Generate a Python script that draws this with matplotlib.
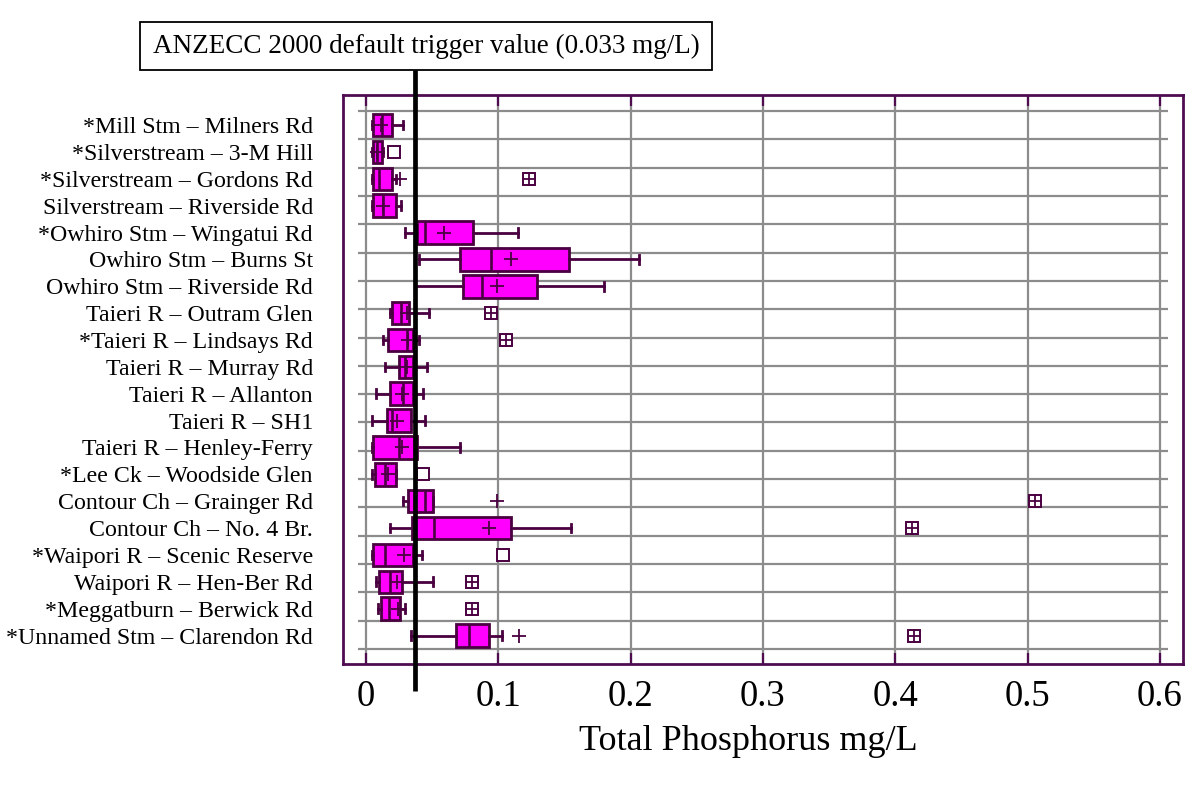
import matplotlib
matplotlib.use('Agg')
import matplotlib.pyplot as plt
import numpy as np
from matplotlib.patches import Rectangle
from matplotlib.transforms import blended_transform_factory

sites = ["*Mill Stm – Milners Rd", "*Silverstream – 3-M Hill", "*Silverstream – Gordons Rd",
         "Silverstream – Riverside Rd", "*Owhiro Stm – Wingatui Rd", "Owhiro Stm – Burns St",
         "Owhiro Stm – Riverside Rd", "Taieri R – Outram Glen", "*Taieri R – Lindsays Rd",
         "Taieri R – Murray Rd", "Taieri R – Allanton", "Taieri R – SH1", "Taieri R – Henley-Ferry",
         "*Lee Ck – Woodside Glen", "Contour Ch – Grainger Rd", "Contour Ch – No. 4 Br.",
         "*Waipori R – Scenic Reserve", "Waipori R – Hen-Ber Rd", "*Meggatburn – Berwick Rd",
         "*Unnamed Stm – Clarendon Rd"]
q1 = [0.0055, 0.0055, 0.0055, 0.0055, 0.0383, 0.071, 0.0736, 0.0194, 0.0169, 0.0252,
      0.0181, 0.0156, 0.0055, 0.0068, 0.032, 0.0345, 0.0055, 0.0098, 0.0111, 0.068]
median = [0.0118, 0.0086, 0.010, 0.0131, 0.0446, 0.0943, 0.0874, 0.0265, 0.0307, 0.0295,
          0.0277, 0.0199, 0.025, 0.0144, 0.0446, 0.0516, 0.0144, 0.018, 0.0174, 0.0778]
q3 = [0.0199, 0.0118, 0.0199, 0.0227, 0.0806, 0.1537, 0.129, 0.0328, 0.0353, 0.0353,
      0.0353, 0.0338, 0.0388, 0.0227, 0.0504, 0.1096, 0.0353, 0.027, 0.0257, 0.093]
whisker_lo = [0.0043, 0.0043, 0.0043, 0.0043, 0.0295, 0.040, 0.037, 0.018, 0.0131, 0.0144,
              0.0073, 0.0045, 0.0045, 0.0048, 0.0277, 0.018, 0.0045, 0.0073, 0.0088, 0.0338]
whisker_hi = [0.0277, 0.013, 0.0227, 0.0265, 0.1151, 0.2064, 0.180, 0.0476, 0.040, 0.0464,
              0.0433, 0.0446, 0.071, 0.0227, 0.0504, 0.155, 0.042, 0.0504, 0.0295, 0.103]
means = [0.011, 0.0086, 0.0257, 0.013, 0.059, 0.1094, 0.0988, 0.031, 0.032, 0.031,
         0.027, 0.0237, 0.027, 0.0169, 0.0988, 0.0932, 0.0287, 0.0237, 0.0244, 0.1157]
nan = float('nan')
open_square = [nan, 0.021, nan, nan, nan, nan, nan, nan, nan, nan,
               nan, nan, nan, 0.0433, nan, nan, 0.1038, nan, nan, nan]
crossed_square = [nan, nan, 0.1235, nan, nan, nan, nan, 0.0942, 0.1056, nan,
                  nan, nan, nan, nan, 0.5054, 0.4126, nan, 0.0804, 0.0804, 0.414]
x_ticks = [0, 0.1, 0.2, 0.3, 0.4, 0.5, 0.6]
x_ticklabels = ["0", "0.1", "0.2", "0.3", "0.4", "0.5", "0.6"]
trigger_x = 0.037
trigger_text = "ANZECC 2000 default trigger value (0.033 mg/L)"
x_title = "Total Phosphorus mg/L"

plt.rcParams['font.family'] = ['Liberation Serif', 'DejaVu Serif']

W, H = 1187, 789
fig = plt.figure(figsize=(W / 100, H / 100), dpi=100)
ax = fig.add_axes([343 / W, 1 - 664 / H, (1183 - 343) / W, (664 - 95) / H])

frame = '#4f0c4f'
edge = '#4a0040'
grid_c = '#8c8c8c'
n = len(sites)
pos = np.arange(n)

ax.set_xlim(-0.0174, 0.6175)
ax.set_ylim(20.06, -1.12)

# grid
for y in np.linspace(-0.52, 19.5, 20):
    ax.plot([-0.006, 0.606], [y, y], color=grid_c, lw=1.6, zorder=1, solid_capstyle='butt')
for x in x_ticks:
    ax.axvline(x, color=grid_c, lw=1.6, zorder=1)

stats = []
for i in range(n):
    stats.append(dict(med=median[i], q1=q1[i], q3=q3[i], whislo=whisker_lo[i],
                      whishi=whisker_hi[i], mean=means[i], fliers=[]))
kw = dict(positions=pos, widths=0.84, patch_artist=True, showmeans=True, showfliers=False,
          boxprops=dict(facecolor='#FF00FF', edgecolor=edge, linewidth=2.0),
          medianprops=dict(color=edge, linewidth=1.9),
          whiskerprops=dict(color=edge, linewidth=2.0),
          capprops=dict(color=edge, linewidth=2.0),
          meanprops=dict(marker='+', markersize=9.5, markeredgecolor=edge, markeredgewidth=1.3),
          manage_ticks=False, capwidths=0.32, zorder=3)
try:
    ax.bxp(stats, orientation='horizontal', **kw)
except TypeError:
    ax.bxp(stats, vert=False, **kw)

ax.plot(open_square, pos, 's', mfc='white', mec=edge, ms=8.6, mew=1.4, ls='none', zorder=4)
ax.plot(crossed_square, pos, 's', mfc='white', mec=edge, ms=8.6, mew=1.4, ls='none', zorder=4)
ax.plot(crossed_square, pos, '+', mec=edge, ms=9.5, mew=1.3, ls='none', zorder=5)

# trigger line
tr = blended_transform_factory(ax.transData, ax.transAxes)
ax.plot([trigger_x, trigger_x], [-0.0475, 1.044], transform=tr, color='black', lw=3.4,
        clip_on=False, zorder=10, solid_capstyle='butt')

# axes styling
for s in ax.spines.values():
    s.set_color(frame)
    s.set_linewidth(2)
ax.set_xticks(x_ticks)
ax.set_xticklabels(x_ticklabels)
ax.tick_params(axis='x', direction='in', length=8, width=1.6, color=frame, top=True,
               bottom=True, labelsize=26.5, pad=11)
ax.set_yticks(pos)
ax.set_yticklabels(sites, fontsize=17.2)
ax.tick_params(axis='y', left=False, right=False, length=0, pad=21.6)

fig.text(748 / W, 1 - 742 / H, x_title, ha='center', va='center', fontsize=26)

# annotation box
fig.add_artist(Rectangle((140 / W, 1 - 70 / H), 572 / W, 48 / H, transform=fig.transFigure,
                         facecolor='white', edgecolor='black', lw=1.3))
fig.text(426 / W, 1 - 46 / H, trigger_text, ha='center', va='center', fontsize=19.5)

fig.savefig('out.png', dpi=100)
